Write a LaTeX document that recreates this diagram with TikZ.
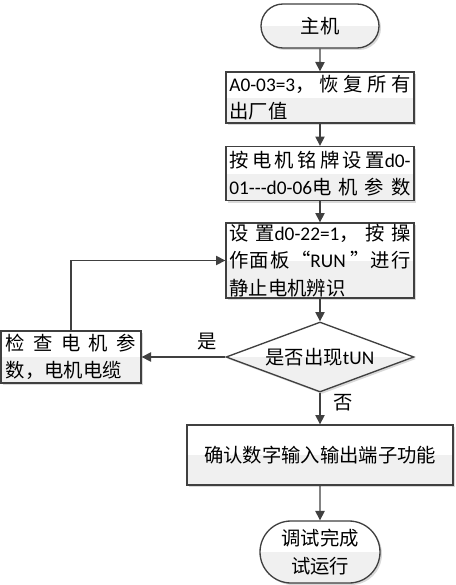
\documentclass[tikz,border=0pt]{standalone}
\usepackage{fontspec}
\setmainfont{Carlito}
\newfontfamily\cjk{Noto Sans CJK SC}
\usetikzlibrary{shapes.geometric,shapes.misc,arrows.meta}
\XeTeXlinebreaklocale "zh"
\XeTeXlinebreakskip=0pt plus 20pt

\definecolor{linegray}{HTML}{404040}
\definecolor{lowgray}{HTML}{F0F0F0}
\newcommand\flowfont{\fontsize{14.5pt}{20.5pt}\selectfont}

\tikzset{
	halffill/.style={fill=white,
		path picture={\fill[lowgray] (path picture bounding box.west) rectangle (path picture bounding box.south east);}},
	softshadow/.style={preaction={fill=black!15,transform canvas={xshift=1.5pt,yshift=-1.5pt}}},
	procbox/.style={rectangle,draw=linegray,halffill,softshadow,inner xsep=1.5pt,inner ysep=0pt,align=justify,font=\flowfont},
	termbox/.style={rounded rectangle,draw=linegray,halffill,softshadow,inner sep=0pt,align=center,font=\flowfont},
	decbox/.style={diamond,aspect=2.7,draw=linegray,halffill,softshadow,inner sep=0pt,align=center,font=\flowfont},
	flowarrow/.style={draw=linegray,-{Triangle[length=7pt,width=7pt]}}}
\tikzset{every picture/.style={line width=1pt}}

\begin{document}
\begin{tikzpicture}[x=0.75pt,y=0.75pt,yscale=-1,xscale=1]
	\useasboundingbox (0,0) rectangle (456,585);

	% Terminator: start
	\node[termbox,minimum width=88.5pt,minimum height=33pt] (start) at (320,26) {{\cjk 主机}};
	% Process boxes
	\node[procbox,text width=136pt,minimum width=141pt,minimum height=38.25pt] (reset) at (320,97.5)
		{A0-03=3{\cjk ，恢复所有}\linebreak{\cjk 出厂值}};
	\node[procbox,text width=136pt,minimum width=141pt,minimum height=40.5pt,
		execute at begin node={\parfillskip=0pt}] (nameplate) at (320,173.5)
		{{\cjk 按电机铭牌设置}d0-\linebreak 01-{}-{}-d0-06{\cjk 电机参数}};
	\node[procbox,text width=136pt,minimum width=141pt,minimum height=56.25pt] (autotune) at (320,260.5)
		{{\cjk 设置}d0-22=1{\cjk ，按操}\linebreak{\cjk 作面板“}RUN {\cjk ”进行}\linebreak{\cjk 静止电机辨识}};
	% Decision
	\node[decbox,minimum width=141pt,minimum height=52.5pt] (tunecheck) at (320,357) {{\cjk 是否出现}tUN};
	\node[procbox,text width=97.5pt,minimum width=105pt,minimum height=39pt] (cablecheck) at (71,357)
		{{\cjk 检查电机参}\linebreak{\cjk 数，电机电缆}};
	\node[procbox,align=center,minimum width=199.5pt,minimum height=45pt] (terminals) at (320,455)
		{{\cjk 确认数字输入输出端子功能}};
	% Terminator: finish
	\node[termbox,minimum width=90pt,minimum height=46.5pt] (finish) at (320,552) {{\cjk 调试完成}\\{\cjk 试运行}};

	% Text Node
	\node[font=\flowfont] (yes) at (207,342) {{\cjk 是}};
	% Text Node
	\node[font=\flowfont] (no) at (343,403) {{\cjk 否}};

	% Connectors
	\draw[flowarrow] (start) -- (reset);
	\draw[flowarrow] (reset) -- (nameplate);
	\draw[flowarrow] (nameplate) -- (autotune);
	\draw[flowarrow] (autotune) -- (tunecheck);
	\draw[flowarrow] (tunecheck) -- (cablecheck);
	\draw[flowarrow] (cablecheck) |- (autotune);
	\draw[flowarrow] (tunecheck) -- (terminals);
	\draw[flowarrow] (terminals) -- (finish);

\end{tikzpicture}
\end{document}
